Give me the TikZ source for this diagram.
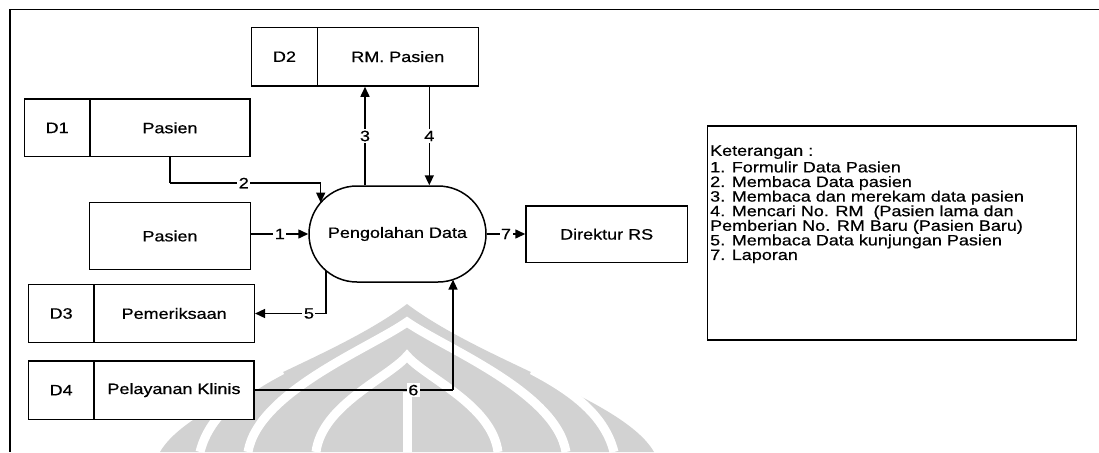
\documentclass[tikz,border=0pt]{standalone}
\usepackage{fontspec}
\setmainfont{Liberation Sans}[FakeStretch=1.2,FakeBold=0.6]
\usetikzlibrary{arrows.meta,calc}
\definecolor{wm}{RGB}{210,210,210}
\tikzset{
  ln/.style={line width=1.5pt, draw=black},
  box/.style={ln, rectangle, fill=white, inner sep=0pt, font=\fontsize{15}{15}\selectfont},
  lbl/.style={fill=white, inner sep=1.5pt, font=\fontsize{15}{15}\selectfont},
  arr/.style={ln, -{Triangle[length=10pt,width=9pt]}},
  wgap/.style={draw=white, line width=9pt},
}
\begin{document}
\begin{tikzpicture}[x=1pt,y=-1pt]
\useasboundingbox (0,0) rectangle (1099,452);
% watermark (background)
\fill[wm] (160,452) .. controls (190,400) and (330,362) .. (407,304)
          .. controls (484,362) and (624,400) .. (654,452) -- cycle;
\draw[wgap] (200,452) .. controls (210,412) and (248,388) .. (282,370);
\draw[wgap] (614,452) .. controls (604,412) and (566,388) .. (532,370);
\draw[wgap] (248,452) .. controls (258,392) and (370,348) .. (407,322)
            .. controls (444,348) and (556,392) .. (566,452);
\draw[wgap] (316,452) .. controls (322,405) and (388,378) .. (407,356)
            .. controls (426,378) and (492,405) .. (498,452);
\draw[wgap] (407,392) -- (407,452);
% outer frame
\draw[ln] (1099,9.3) -- (9.8,9.3) -- (9.8,452);
% data stores
\node[box, minimum width=65.7pt, minimum height=57.7pt] (d1id) at (57.15,127.85) {D1};
\node[box, minimum width=160pt, minimum height=57.7pt] (d1) at (170,127.85) {Pasien};
\node[box, minimum width=65.6pt, minimum height=58.7pt] (d2id) at (284.5,56.65) {D2};
\node[box, minimum width=161pt, minimum height=58.7pt] (d2) at (397.8,56.65) {RM. Pasien};
\node[box, minimum width=65.7pt, minimum height=58.4pt] (d3id) at (61.15,313.5) {D3};
\node[box, minimum width=160.3pt, minimum height=58.4pt] (d3) at (174.15,313.5) {Pemeriksaan};
\node[box, minimum width=65.7pt, minimum height=58.3pt] (d4id) at (61.15,390.15) {D4};
\node[box, minimum width=160pt, minimum height=58.3pt] (d4) at (174,390.15) {Pelayanan Klinis};
% entities
\node[box, minimum width=161.4pt, minimum height=66.6pt] (pas) at (170,236) {Pasien};
\node[box, minimum width=161.3pt, minimum height=56.3pt] (dir) at (606.65,234.15) {Direktur RS};
% process
\node[box, rounded corners=48pt, minimum width=177pt, minimum height=96pt] (proc) at (397.5,234) {Pengolahan Data};
% legend
\node[box, minimum width=369pt, minimum height=214pt] (leg) at (892.2,233) {};
\node[anchor=north west, inner sep=0pt, align=left, font=\fontsize{15}{14.6}\selectfont] (legt) at ($(leg.north west)+(3,20)$)
{Keterangan :\\[2pt]
1. Formulir Data Pasien\\
2. Membaca Data pasien\\
3. Membaca dan merekam data pasien\\
4. Mencari No. RM\ \ (Pasien lama dan\\
Pemberian No. RM Baru (Pasien Baru)\\
5. Membaca Data kunjungan Pasien\\
7. Laporan};
% connector points on process border
\coordinate (p2) at ($(proc.center)+(-76.8,-31.4)$);
\coordinate (p3) at ($(proc.north)+(-32.5,0)$);
\coordinate (p4) at ($(proc.north)+(31.8,0)$);
\coordinate (p5) at ($(proc.center)+(-71.5,36.6)$);
\coordinate (p6) at ($(proc.center)+(55.5,45.6)$);
\coordinate (c2) at ($(d1.south)+(0,25.6)$);
% flows
\draw[ln] (d1.south) -- (c2);
\draw[arr] (c2) -- node[lbl, pos=0.49]{2} (c2 -| p2) -- (p2);
\draw[arr] (pas.east |- proc.west) -- node[lbl]{1} (proc.west);
\draw[arr] (p3) -- node[lbl, pos=0.5]{3} (p3 |- d2.south);
\draw[arr] (p4 |- d2.south) -- node[lbl, pos=0.5]{4} (p4);
\draw[arr] (proc.east) -- node[lbl]{7} (dir.west |- proc.east);
\coordinate (c5) at (p5 |- d3.east);
\draw[ln] (p5) -- (c5);
\draw[arr] (c5) -- node[lbl, pos=0.24]{5} (d3.east);
\coordinate (c6) at (d4.east -| p6);
\draw[ln] (d4.east) -- node[lbl, pos=0.8]{6} (c6);
\draw[arr] (c6) -- (p6);
\end{tikzpicture}
\end{document}
